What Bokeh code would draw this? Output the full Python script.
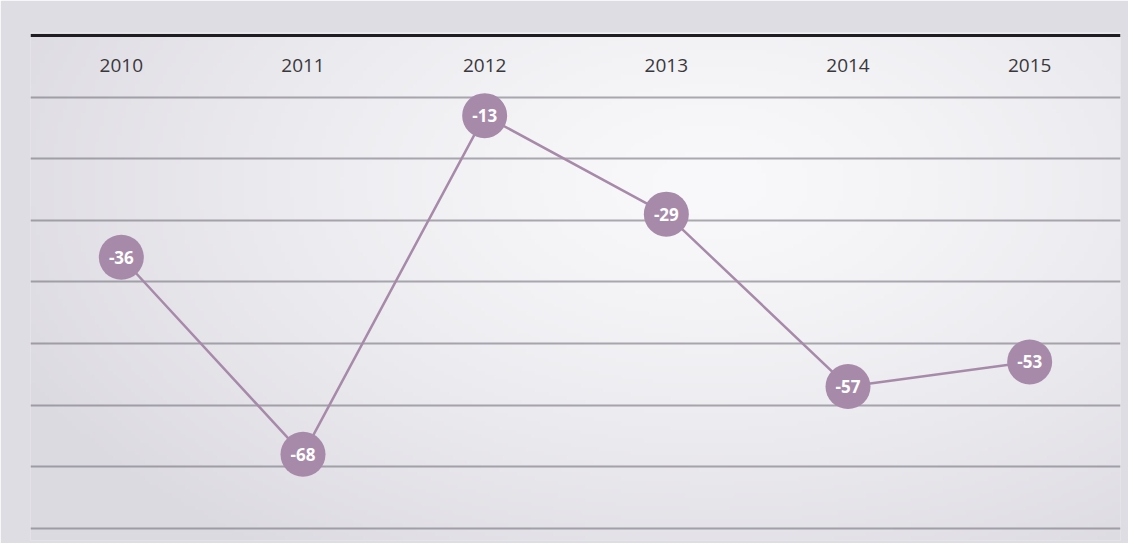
import numpy as np
from bokeh.plotting import figure
from bokeh.models import Range1d, FactorRange, FixedTicker, Span, Grid
from bokeh.embed import file_html
from bokeh.resources import INLINE
from bokeh.core.properties import value

years = ["2010", "2011", "2012", "2013", "2014", "2015"]
balance = [-36, -68, -13, -29, -57, -53]
value_labels = [str(v) for v in balance]
grid_levels = [-10, -20, -30, -40, -50, -60, -70, -80]
year_label_level = -4.8

Y_MIN, Y_MAX = -82, 0.5
EDGE = "#dfdde4"
PURPLE = "#a78aa9"

W, H = 1128, 543
BL, BR, BT, BB = 30, 8, 32, 3
p = figure(
    x_range=FactorRange(*years),
    y_range=Range1d(Y_MIN, Y_MAX),
    width=W, height=H,
    output_backend="svg", toolbar_location=None,
    x_axis_location=None, y_axis_location=None,
    min_border_left=BL, min_border_right=BR,
    min_border_top=BT, min_border_bottom=BB,
)
p.background_fill_color = EDGE
p.border_fill_color = EDGE
p.outline_line_color = None
p.xgrid.visible = False
p.ygrid.visible = False

# soft paper lighting (background only, not data)
frame_w, frame_h = W - BL - BR, H - BT - BB
ny, nx = 120, 240
gx = np.linspace(0, frame_w, nx)[None, :]
gy = np.linspace(frame_h, 0, ny)[:, None]  # row 0 = bottom
cx, cy, rx, ry = 680.0, 150.0, 780.0, 460.0
d = np.clip(np.sqrt(((gx - cx) / rx) ** 2 + ((gy - cy) / ry) ** 2), 0, 1) ** 1.3
c0 = np.array([249, 249, 251], float)
c1 = np.array([220, 218, 225], float)
img = np.empty((ny, nx), dtype=np.uint32)
view = img.view(dtype=np.uint8).reshape((ny, nx, 4))
for k in range(3):
    view[:, :, k] = (c0[k] + (c1[k] - c0[k]) * d).astype(np.uint8)
view[:, :, 3] = 255
bg = p.image_rgba(image=[img], x=0, y=Y_MIN, dw=len(years), dh=Y_MAX - Y_MIN)
bg.level = "image"

p.add_layout(Grid(dimension=1, ticker=FixedTicker(ticks=grid_levels),
                  grid_line_color="#6c6872", grid_line_alpha=0.55, grid_line_width=1.8))
p.add_layout(Span(location=0, dimension="width", line_color="#1f1d22", line_width=3))

p.text(x=years, y=[year_label_level] * len(years), text=years,
       text_align="center", text_baseline="middle",
       text_font=value("Open Sans"), text_font_size="19px", text_color="#3a383c")

p.line(years, balance, line_color=PURPLE, line_width=2.5)
p.scatter(years, balance, size=45, fill_color=PURPLE, line_color=None)
p.text(x=years, y=balance, text=value_labels,
       text_align="center", text_baseline="middle",
       text_font=value("Open Sans"), text_font_style="bold",
       text_font_size="17px", text_color="white")

open("out.html", "w").write(file_html(p, INLINE))
